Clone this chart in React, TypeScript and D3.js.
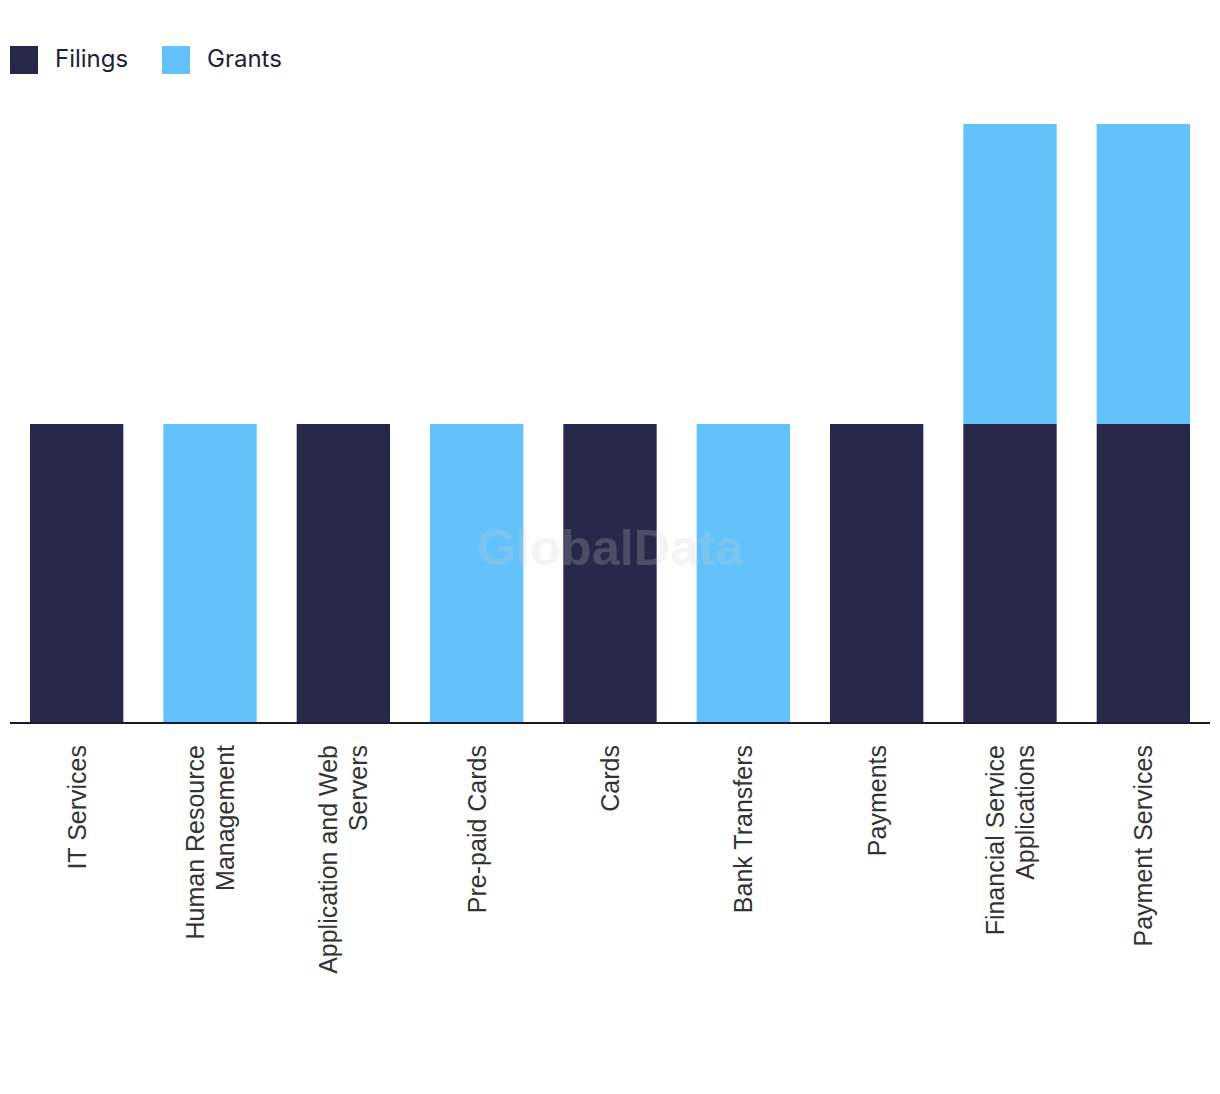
import React from "react";
import * as d3 from "d3";

const categories: string[][] = [
  ["IT Services"],
  ["Human Resource", "Management"],
  ["Application and Web", "Servers"],
  ["Pre-paid Cards"],
  ["Cards"],
  ["Bank Transfers"],
  ["Payments"],
  ["Financial Service", "Applications"],
  ["Payment Services"],
];
const filings = [1, 0, 1, 0, 1, 0, 1, 1, 1];
const grants = [0, 1, 0, 1, 0, 1, 0, 1, 1];
const seriesNames = ["Filings", "Grants"];
const colors = ["#27284A", "#62C2F9"];

export default function App() {
  const width = 1220;
  const height = 1094;
  const left = 10;
  const right = 1210;
  const top = 124;
  const bottom = 724;

  const keys = categories.map((c) => c.join(" "));
  const rows = keys.map((k, i) => ({ key: k, Filings: filings[i], Grants: grants[i] }));
  const stack = d3.stack<any>().keys(seriesNames)(rows);
  const maxV = d3.max(rows, (r) => r.Filings + r.Grants) as number;

  const x = d3.scaleBand<string>().domain(keys).range([left, right]).paddingInner(0.3).paddingOuter(0.15);
  const y = d3.scaleLinear().domain([0, maxV]).range([bottom, top]);

  return (
    <svg width={width} height={height} style={{ display: "block", position: "absolute", left: 0, top: 0 }}>
      <rect width={width} height={height} fill="#fff" />
      {/* legend */}
      {seriesNames.map((s, i) => {
        const lx = 10 + i * 152;
        return (
          <g key={s}>
            <rect x={lx} y={46} width={28} height={28} fill={colors[i]} />
            <text x={lx + 45} y={67} fontFamily="Inter, 'Noto Sans', sans-serif" fontSize={24} fill="#1e1f33">
              {s}
            </text>
          </g>
        );
      })}
      {/* bars */}
      {stack.map((layer, si) => (
        <g key={layer.key} fill={colors[si]}>
          {layer.map((d, i) =>
            d[1] - d[0] > 0 ? (
              <rect
                key={i}
                x={x(keys[i])}
                y={y(d[1])}
                width={x.bandwidth()}
                height={y(d[0]) - y(d[1])}
              />
            ) : null
          )}
        </g>
      ))}
      {/* watermark */}
      <text
        x={610}
        y={565}
        textAnchor="middle"
        fontFamily="'Liberation Sans', Arial, sans-serif"
        fontWeight="bold"
        fontSize={50.5}
        fill="#cfcfcf"
        opacity={0.22}
      >
        GlobalData
      </text>
      {/* axis */}
      <line x1={left} x2={right} y1={bottom - 1} y2={bottom - 1} stroke="#1a1a2e" strokeWidth={2} />
      {categories.map((lines, i) => {
        const cx = (x(keys[i]) as number) + x.bandwidth() / 2;
        const lh = 30;
        const n = lines.length;
        return (
          <g key={i} transform={`translate(${cx},745) rotate(-90)`}>
            {lines.map((l, j) => (
              <text
                key={j}
                x={0}
                y={(j - (n - 1) / 2) * lh + 9}
                textAnchor="end"
                fontFamily="'Liberation Sans', Arial, sans-serif"
                fontSize={25}
                fill="#333"
              >
                {l}
              </text>
            ))}
          </g>
        );
      })}
    </svg>
  );
}
